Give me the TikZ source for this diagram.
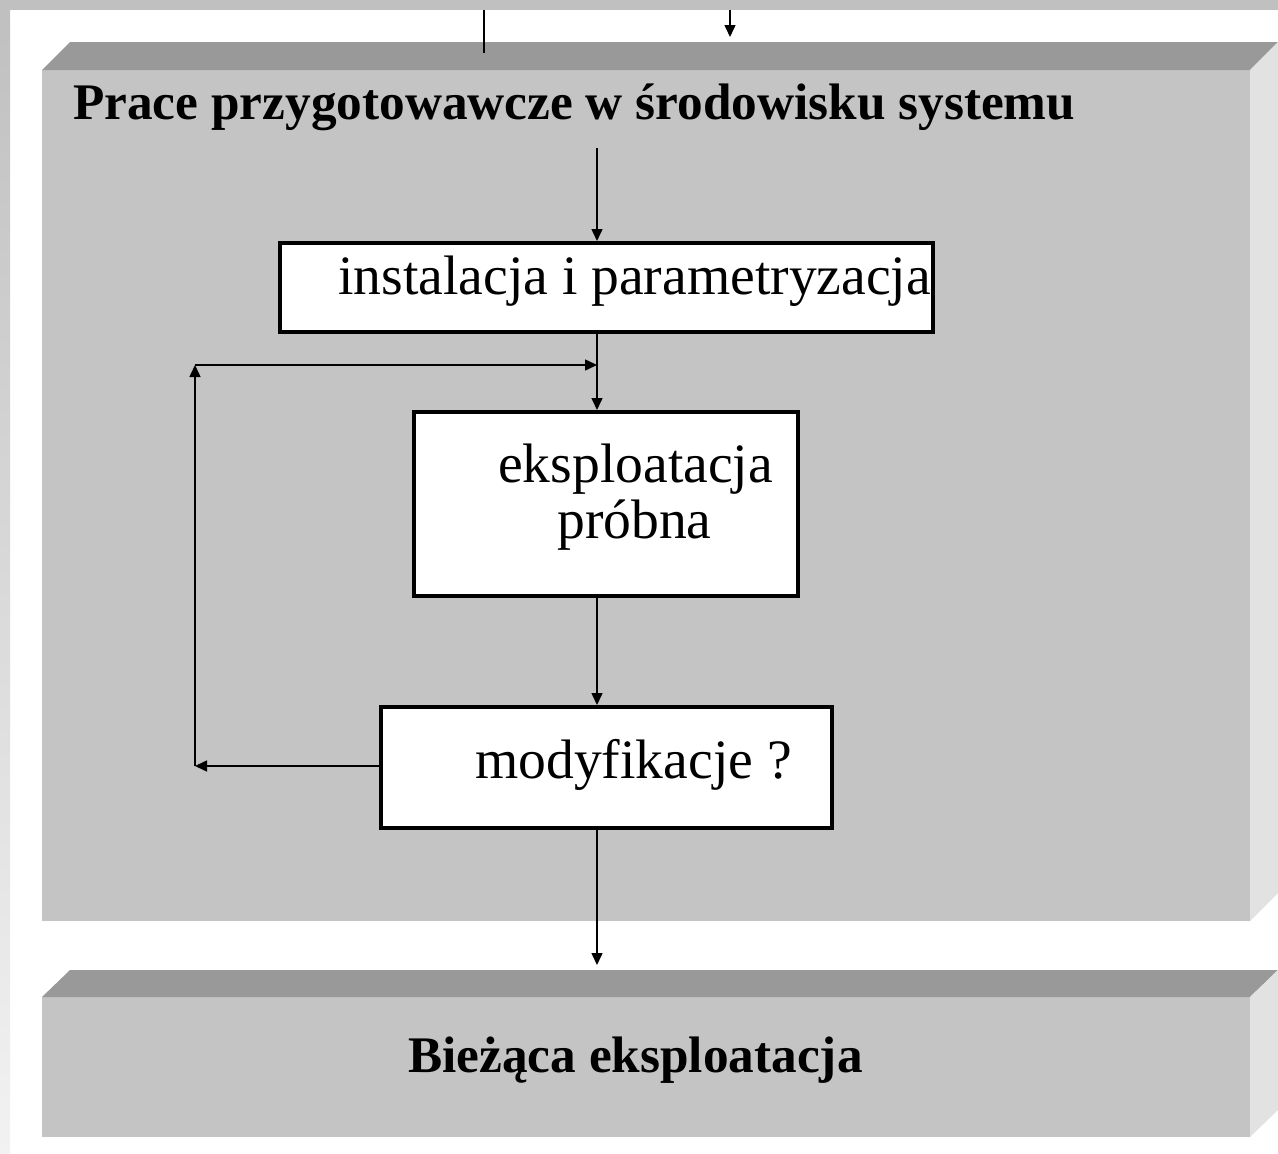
\documentclass[tikz,border=0pt]{standalone}
\usepackage{fontspec}
\setmainfont{Liberation Serif}
\usetikzlibrary{arrows.meta}
\definecolor{topface}{HTML}{999999}
\definecolor{frontface}{HTML}{C4C4C4}
\definecolor{sideface}{HTML}{E2E2E2}
\definecolor{stripgray}{HTML}{C0C0C0}
\definecolor{striplight}{HTML}{F2F2F2}
\begin{document}
\begin{tikzpicture}[x=1pt,y=-1pt,
  flow/.style={-{Triangle[length=12pt,width=11pt]}, line width=1.5pt},
  plain/.style={line width=1.5pt},
  procbox/.style={draw=black, fill=white, line width=3.5pt, inner sep=0pt, anchor=north west},
  boxtext/.style={font=\fontsize{55.6}{66}\selectfont, inner sep=0pt, anchor=base west},
  headtext/.style={font=\bfseries\fontsize{51.3}{61}\selectfont, inner sep=0pt, anchor=base west}]
\useasboundingbox (0,0) rectangle (1278,1154);
% background
\fill[white] (0,0) rectangle (1278,1154);
\fill[stripgray] (0,0) rectangle (1278,10);
\shade[top color=stripgray, bottom color=striplight] (0,10) rectangle (10,1154);
% upper 3D block
\fill[frontface] (42,70) rectangle (1250,921);
\fill[topface] (42,70) -- (70,42) -- (1278,42) -- (1250,70) -- cycle;
\fill[sideface] (1250,70) -- (1278,42) -- (1278,893) -- (1250,921) -- cycle;
% lower 3D block
\fill[frontface] (42,997) rectangle (1250,1137);
\fill[topface] (42,997) -- (70,970) -- (1278,970) -- (1250,997) -- cycle;
\fill[sideface] (1250,997) -- (1278,970) -- (1278,1110) -- (1250,1137) -- cycle;
% titles
\node[headtext] (title) at (73,119) {Prace przygotowawcze w środowisku systemu};
\node[headtext] (bottom) at (408,1072) {Bieżąca eksploatacja};
% process boxes
\node[procbox, minimum width=653pt, minimum height=89pt] (b1) at (278,241) {};
\node[procbox, minimum width=384pt, minimum height=184pt] (b2) at (412,410) {};
\node[procbox, minimum width=451pt, minimum height=121pt] (b3) at (379,705) {};
\node[boxtext] (t1) at (338,294) {instalacja i parametryzacja};
\node[boxtext] (t2a) at (498,482) {eksploatacja};
\node[boxtext] (t2b) at (557,538) {próbna};
\node[boxtext] (t3) at (475,778) {modyfikacje ?};
% coordinates
\coordinate (ax) at (597,0);
\coordinate (in1) at (484,10);
\coordinate (in1e) at (484,53);
\coordinate (in2) at (730,10);
\coordinate (in2e) at (730,37);
\coordinate (tstart) at (597,148);
\coordinate (fbL) at (195,766);
\coordinate (fbT) at (195,365);
\coordinate (fbR) at (597,365);
\coordinate (out) at (597,965);
% connectors
\draw[plain] (in1) -- (in1e);
\draw[flow] (in2) -- (in2e);
\draw[flow] (tstart) -- (b1.north -| ax);
\draw[flow] (b1.south -| ax) -- (b2.north -| ax);
\draw[flow] (b2.south -| ax) -- (b3.north -| ax);
\draw[flow] (b3.west |- fbL) -- (fbL);
\draw[flow] (fbL) -- (fbT);
\draw[flow] (fbT) -- (fbR);
\draw[flow] (b3.south -| ax) -- (out);
\end{tikzpicture}
\end{document}
